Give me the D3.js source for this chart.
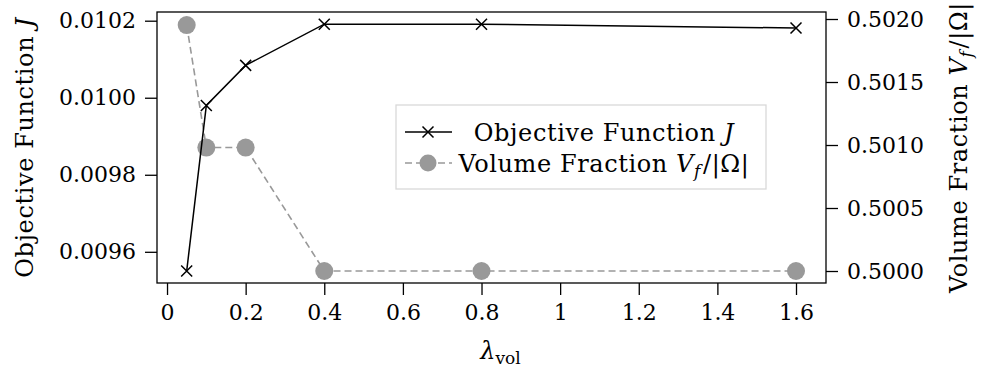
<!DOCTYPE html>
<html>
<head>
<meta charset="utf-8">
<script src="https://cdn.jsdelivr.net/npm/d3@7"></script>
<style>
  body { margin: 0; background: #fff; }
  text { font-family: "DejaVu Serif", serif; fill: #000; }
</style>
</head>
<body>
<div id="viz"></div>
<script>
const width = 983;
const height = 374;
const margin = {top: 12, right: 157, bottom: 91, left: 157}; // frame of the plot area
const fontSize = 22;   // tick labels
const titleSize = 24;  // axis titles and legend
const subSize = 17;

// data
const lambdas = [0.05, 0.1, 0.2, 0.4, 0.8, 1.6];
const objective = [0.009550, 0.009980, 0.010084, 0.010191, 0.010191, 0.010181];
const volumeFraction = [0.501952, 0.500980, 0.500980, 0.500000, 0.500000, 0.500000];
const xTicks = [0, 0.2, 0.4, 0.6, 0.8, 1, 1.2, 1.4, 1.6];
const leftTicks = [0.0096, 0.0098, 0.0100, 0.0102];
const rightTicks = [0.5000, 0.5005, 0.5010, 0.5015, 0.5020];

const grey = '#999999';

const svg = d3.select('#viz')
  .append('svg')
    .attr('width', width)
    .attr('height', height)

const x0 = margin.left, x1 = width - margin.right;
const y0 = height - margin.bottom, y1 = margin.top;

const x = d3.scaleLinear().domain([-0.0255, 1.6763]).range([x0, x1]);
const yLeft = d3.scaleLinear().domain([0.009519, 0.0102226]).range([y0, y1]);
const yRight = d3.scaleLinear().domain([0.4999048, 0.5020556]).range([y0, y1]);

// axes (ticks only, the frame is drawn separately)
function styleAxis(g) {
  g.select('.domain').remove();
  g.selectAll('.tick line').attr('stroke', '#000').attr('stroke-width', 1.3);
  g.selectAll('.tick text')
    .style('font-family', '"DejaVu Serif", serif')
    .style('font-size', fontSize + 'px')
    .attr('fill', '#000');
}

svg.append('g')
  .attr('transform', `translate(0,${y0})`)
  .call(d3.axisBottom(x).tickValues(xTicks).tickSize(12).tickPadding(9).tickFormat(d3.format('~g')))
  .call(styleAxis);

svg.append('g')
  .attr('transform', `translate(${x0},0)`)
  .call(d3.axisLeft(yLeft).tickValues(leftTicks).tickSize(12).tickPadding(9).tickFormat(d3.format('.4f')))
  .call(styleAxis);

svg.append('g')
  .attr('transform', `translate(${x1},0)`)
  .call(d3.axisRight(yRight).tickValues(rightTicks).tickSize(12).tickPadding(9).tickFormat(d3.format('.4f')))
  .call(styleAxis);

// plot frame
svg.append('rect')
  .attr('x', x0).attr('y', y1)
  .attr('width', x1 - x0).attr('height', y0 - y1)
  .attr('fill', 'none')
  .attr('stroke', '#000')
  .attr('stroke-width', 1.3);

// volume fraction series (grey dashed with dots)
const volLine = d3.line().x((d, i) => x(lambdas[i])).y(d => yRight(d));
svg.append('path')
  .datum(volumeFraction)
  .attr('d', volLine)
  .attr('fill', 'none')
  .attr('stroke', grey)
  .attr('stroke-width', 1.6)
  .attr('stroke-dasharray', '7,4');

svg.selectAll('.vol-dot')
  .data(volumeFraction)
  .join('circle')
    .attr('class', 'vol-dot')
    .attr('cx', (d, i) => x(lambdas[i]))
    .attr('cy', d => yRight(d))
    .attr('r', 9)
    .attr('fill', grey);

// objective function series (black with crosses)
const objLine = d3.line().x((d, i) => x(lambdas[i])).y(d => yLeft(d));
svg.append('path')
  .datum(objective)
  .attr('d', objLine)
  .attr('fill', 'none')
  .attr('stroke', '#000')
  .attr('stroke-width', 1.5);

const cross = 5.5;
function drawCross(g, cx, cy) {
  g.append('path')
    .attr('d', `M${cx - cross},${cy - cross}L${cx + cross},${cy + cross}M${cx - cross},${cy + cross}L${cx + cross},${cy - cross}`)
    .attr('stroke', '#000')
    .attr('stroke-width', 1.5)
    .attr('fill', 'none');
}
objective.forEach((d, i) => drawCross(svg, x(lambdas[i]), yLeft(d)));

// axis titles
svg.append('text')
  .attr('transform', `translate(${x0 + (x1 - x0) / 2 + 9},${height - 15}) `)
  .attr('text-anchor', 'middle')
  .style('font-size', titleSize + 'px')
  .call(t => {
    t.append('tspan').attr('font-style', 'italic').text('λ');
    t.append('tspan').attr('font-size', subSize + 'px').attr('dy', 5).text('vol');
  });

function objectiveLabel(t) {
  t.append('tspan').text('Objective Function ');
  t.append('tspan').attr('font-style', 'italic').text('J');
}

function volumeLabel(t) {
  t.append('tspan').text('Volume Fraction ');
  t.append('tspan').attr('font-style', 'italic').text('V');
  t.append('tspan').attr('font-style', 'italic').attr('font-size', subSize + 'px').attr('dy', 5).text('f');
  t.append('tspan').attr('dy', -5).attr('dx', 2).text('/|Ω|');
}

svg.append('text')
  .attr('transform', `translate(33,${(y0 + y1) / 2}) rotate(-90)`)
  .attr('text-anchor', 'middle')
  .style('font-size', titleSize + 'px')
  .style('letter-spacing', '0.6px')
  .call(objectiveLabel);

svg.append('text')
  .attr('transform', `translate(967,${(y0 + y1) / 2}) rotate(-90)`)
  .attr('text-anchor', 'middle')
  .style('font-size', titleSize + 'px')
  .style('letter-spacing', '0.6px')
  .call(volumeLabel);

// legend
const legend = svg.append('g').attr('transform', 'translate(396,105)');
legend.append('rect')
  .attr('width', 370).attr('height', 84)
  .attr('fill', '#fff')
  .attr('stroke', '#d9d9d9')
  .attr('stroke-width', 1.3);

legend.append('line')
  .attr('x1', 9).attr('x2', 56).attr('y1', 27).attr('y2', 27)
  .attr('stroke', '#000').attr('stroke-width', 1.5);
drawCross(legend, 32, 27);

legend.append('line')
  .attr('x1', 9).attr('x2', 56).attr('y1', 58).attr('y2', 58)
  .attr('stroke', grey).attr('stroke-width', 1.6).attr('stroke-dasharray', '7,4');
legend.append('circle')
  .attr('cx', 32).attr('cy', 58).attr('r', 8.5)
  .attr('fill', grey);

legend.append('text')
  .attr('x', 208).attr('y', 36)
  .attr('text-anchor', 'middle')
  .style('font-size', titleSize + 'px')
  .style('letter-spacing', '0.6px')
  .call(objectiveLabel);

legend.append('text')
  .attr('x', 208).attr('y', 67)
  .attr('text-anchor', 'middle')
  .style('font-size', titleSize + 'px')
  .style('letter-spacing', '0.6px')
  .call(volumeLabel);
</script>
</body>
</html>
